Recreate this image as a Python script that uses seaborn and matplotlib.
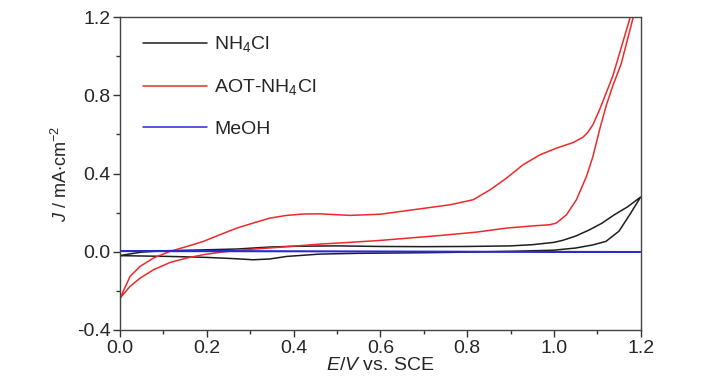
import numpy as np
import matplotlib
matplotlib.use("Agg")
import matplotlib.pyplot as plt
import seaborn as sns
from matplotlib.ticker import MultipleLocator

# CV data (E in V vs SCE, J in mA/cm2)
# NH4Cl: forward (lower) branch and reverse (upper) branch
nh4_fwd_x = [0.0, 0.115, 0.2, 0.26, 0.307, 0.345, 0.384, 0.46, 0.55, 0.7, 0.8, 0.9,
             1.0, 1.05, 1.09, 1.12, 1.15, 1.175, 1.2]
nh4_fwd_y = [-0.02, -0.024, -0.029, -0.035, -0.041, -0.037, -0.024, -0.012, -0.008,
             -0.005, -0.002, 0.002, 0.008, 0.019, 0.035, 0.053, 0.105, 0.19, 0.28]
nh4_rev_x = [1.2, 1.17, 1.14, 1.11, 1.08, 1.05, 1.02, 1.0, 0.95, 0.9, 0.8, 0.7,
             0.6, 0.5, 0.4, 0.345, 0.269, 0.2, 0.1, 0.05, 0.02, 0.0]
nh4_rev_y = [0.28, 0.23, 0.19, 0.145, 0.11, 0.08, 0.058, 0.048, 0.036, 0.03, 0.027,
             0.026, 0.027, 0.03, 0.028, 0.024, 0.014, 0.01, 0.005, -0.002, -0.012, -0.02]

# AOT-NH4Cl
aot_fwd_x = [0.0, 0.023, 0.046, 0.077, 0.115, 0.154, 0.192, 0.23, 0.269, 0.361,
             0.46, 0.53, 0.6, 0.737, 0.82, 0.891, 0.95, 0.99, 1.006, 1.029, 1.052,
             1.075, 1.09, 1.106, 1.121, 1.136, 1.155, 1.183, 1.2]
aot_fwd_y = [-0.237, -0.177, -0.135, -0.092, -0.055, -0.032, -0.015, -0.003, 0.007,
             0.022, 0.039, 0.048, 0.058, 0.083, 0.1, 0.121, 0.132, 0.138, 0.147, 0.189,
             0.266, 0.385, 0.487, 0.63, 0.75, 0.85, 0.96, 1.2, 1.33]
aot_rev_x = [1.2, 1.176, 1.148, 1.136, 1.121, 1.106, 1.09, 1.078, 1.067, 1.045, 1.006,
             0.968, 0.929, 0.891, 0.853, 0.814, 0.76, 0.7, 0.6, 0.53, 0.46, 0.422,
             0.384, 0.345, 0.307, 0.269, 0.23, 0.192, 0.154, 0.115, 0.077, 0.046,
             0.023, 0.0]
aot_rev_y = [1.37, 1.2, 0.99, 0.9, 0.815, 0.73, 0.65, 0.61, 0.586, 0.559, 0.53,
             0.496, 0.445, 0.377, 0.317, 0.266, 0.24, 0.222, 0.192, 0.186, 0.194,
             0.193, 0.186, 0.172, 0.147, 0.121, 0.087, 0.053, 0.027, 0.002, -0.032,
             -0.075, -0.126, -0.237]

# MeOH
meoh_fwd_x = [0.0, 0.3, 0.6, 0.9, 1.2]
meoh_fwd_y = [0.005, 0.003, 0.002, 0.001, 0.0]
meoh_rev_x = [1.13, 0.8, 0.4, 0.0]
meoh_rev_y = [-0.001, 0.0, 0.001, 0.002]

labels = ["NH$_4$Cl", "AOT-NH$_4$Cl", "MeOH"]
colors = ["#1e1e1e", "#ec2a2a", "#2a2ad0"]

sns.set_style("ticks")
plt.rcParams["font.family"] = ["Liberation Sans", "DejaVu Sans"]
plt.rcParams["mathtext.fontset"] = "custom"
plt.rcParams["mathtext.rm"] = "Liberation Sans"
plt.rcParams["mathtext.it"] = "Liberation Sans:italic"
plt.rcParams["mathtext.default"] = "regular"

fig = plt.figure(figsize=(7.28, 3.9), dpi=100)
ax = fig.add_axes([0.165, 0.154, 0.715, 0.802])

series = [
    (nh4_fwd_x + nh4_rev_x, nh4_fwd_y + nh4_rev_y),
    (aot_fwd_x + aot_rev_x, aot_fwd_y + aot_rev_y),
    (meoh_fwd_x + meoh_rev_x, meoh_fwd_y + meoh_rev_y),
]
for (xs, ys), lab, col in zip(series, labels, colors):
    sns.lineplot(x=xs, y=ys, sort=False, estimator=None, color=col,
                 lw=1.1, label=lab, ax=ax)

ax.set_xlim(0, 1.2)
ax.set_ylim(-0.4, 1.2)
ax.xaxis.set_major_locator(MultipleLocator(0.2))
ax.xaxis.set_minor_locator(MultipleLocator(0.1))
ax.yaxis.set_major_locator(MultipleLocator(0.4))
ax.yaxis.set_minor_locator(MultipleLocator(0.2))
ax.set_xticklabels([f"{v:.1f}" for v in ax.get_xticks()])
ax.set_yticklabels([f"{v:.1f}" for v in ax.get_yticks()])
ax.tick_params(which="major", direction="out", length=5, width=1,
               labelsize=14, color="#333333", pad=2)
ax.tick_params(which="minor", direction="out", length=3, width=1, color="#333333")
for sp in ax.spines.values():
    sp.set_visible(True)
    sp.set_color("#444444")
    sp.set_linewidth(1.0)

ax.set_xlabel(r"$\mathit{E/V}$ vs. SCE", fontsize=14, labelpad=0)
ax.set_ylabel(r"$\mathit{J}$ / mA$\cdot$cm$^{-2}$", fontsize=13, labelpad=4)

ax.legend(loc="upper left", bbox_to_anchor=(0.044, 0.945), frameon=False,
          fontsize=14, handlelength=3.3, handletextpad=0.35, labelspacing=1.18,
          borderpad=0, borderaxespad=0)

fig.savefig("out.png", dpi=100)
